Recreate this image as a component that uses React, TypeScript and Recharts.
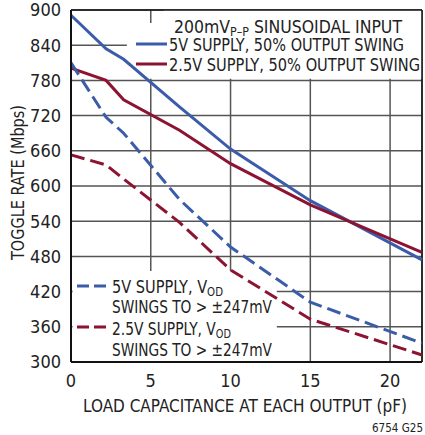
import { LineChart, Line, XAxis, YAxis, CartesianGrid, ReferenceArea, ReferenceLine } from 'recharts'

// load capacitance (pF) at each measured point
const capacitance = [0, 2.2, 3.3, 6.8, 10, 15, 22]

// toggle rate (Mbps)
const rate5V50 = [891, 834, 816, 735, 663, 575, 474]
const rate25V50 = [801, 780, 747, 695, 638, 568, 487]
const rate5VOd = [810, 717, 690, 577, 496, 402, 332]
const rate25VOd = [653, 636, 612, 538, 457, 373, 312]

const xTicks = [0, 5, 10, 15, 20]
const yTicks = [300, 360, 420, 480, 540, 600, 660, 720, 780, 840, 900]

const BLUE = '#3b5ca9'
const RED = '#8c1332'
const GRID = '#555555'
const FONT = "'Liberation Sans Narrow', 'DejaVu Sans Condensed', 'Arial Narrow', sans-serif"

const data = capacitance.map((c, i) => ({
  c,
  s5: rate5V50[i],
  s25: rate25V50[i],
  d5: rate5VOd[i],
  d25: rate25VOd[i]
}))

const tickStyle = { fontSize: 18, fill: '#222', fontFamily: FONT }

export default function App() {
  const fit = { lengthAdjust: 'spacingAndGlyphs' as const }
  return (
    <div style={{ position: 'absolute', left: 0, top: 0, width: 425, height: 435, background: '#fff', fontFamily: FONT }}>
      <LineChart width={425} height={435} data={data} margin={{ top: 10, right: 3, bottom: 43, left: 26 }}>
        <CartesianGrid stroke={GRID} strokeWidth={1.5} />
        {/* white boxes behind the legends */}
        <ReferenceArea x1={5.8} x2={22} y1={878} y2={900} fill="#fff" fillOpacity={1} stroke="none" ifOverflow="hidden" />
        <ReferenceArea x1={3.5} x2={22} y1={783} y2={878} fill="#fff" fillOpacity={1} stroke="none" ifOverflow="hidden" />
        <ReferenceArea x1={0.1} x2={12.9} y1={301} y2={455} fill="#fff" fillOpacity={1} stroke="none" ifOverflow="hidden" />
        <XAxis
          dataKey="c"
          type="number"
          domain={[0, 22]}
          ticks={xTicks}
          height={30}
          tickSize={0}
          tickMargin={12}
          axisLine={{ stroke: '#111', strokeWidth: 2 }}
          tick={tickStyle}
          interval={0}
        />
        <YAxis
          type="number"
          domain={[300, 900]}
          ticks={yTicks}
          width={45}
          tickSize={0}
          tickMargin={10}
          axisLine={{ stroke: '#111', strokeWidth: 2 }}
          tick={tickStyle}
          interval={0}
        />
        <ReferenceLine y={900} stroke="#111" strokeWidth={1.5} />
        <ReferenceLine x={22} stroke="#111" strokeWidth={1.5} />
        <Line dataKey="s5" stroke={BLUE} strokeWidth={3} dot={false} isAnimationActive={false} />
        <Line dataKey="s25" stroke={RED} strokeWidth={3} dot={false} isAnimationActive={false} />
        <Line dataKey="d5" stroke={BLUE} strokeWidth={3} strokeDasharray="14 6" dot={false} isAnimationActive={false} />
        <Line dataKey="d25" stroke={RED} strokeWidth={3} strokeDasharray="14 6" dot={false} isAnimationActive={false} />
      </LineChart>
      <svg width={425} height={435} style={{ position: 'absolute', left: 0, top: 0, pointerEvents: 'none' }}>
        <g fontFamily={FONT} fill="#222" fontSize={17.8}>
          <text x={174} y={33} textLength={228} {...fit}>
            200mV<tspan fontSize={12.5} dy={3}>P–P</tspan>
            <tspan dy={-3}> SINUSOIDAL INPUT</tspan>
          </text>
          <line x1={136} x2={167} y1={44} y2={44} stroke={BLUE} strokeWidth={3} />
          <text x={169} y={51} textLength={235} {...fit}>5V SUPPLY, 50% OUTPUT SWING</text>
          <line x1={136} x2={167} y1={64} y2={64} stroke={RED} strokeWidth={3} />
          <text x={169} y={71} textLength={251} {...fit}>2.5V SUPPLY, 50% OUTPUT SWING</text>

          <line x1={77} x2={107} y1={286} y2={286} stroke={BLUE} strokeWidth={3} strokeDasharray="12 5" />
          <text x={112} y={293} textLength={111} {...fit}>
            5V SUPPLY, V<tspan fontSize={12.5} dy={3}>OD</tspan>
          </text>
          <text x={112} y={313} textLength={160} {...fit}>SWINGS TO &gt; ±247mV</text>
          <line x1={77} x2={107} y1={327} y2={327} stroke={RED} strokeWidth={3} strokeDasharray="12 5" />
          <text x={112} y={335} textLength={119} {...fit}>
            2.5V SUPPLY, V<tspan fontSize={12.5} dy={3}>OD</tspan>
          </text>
          <text x={112} y={356} textLength={160} {...fit}>SWINGS TO &gt; ±247mV</text>

          <text x={83} y={412} fontSize={18.5} textLength={324} {...fit}>LOAD CAPACITANCE AT EACH OUTPUT (pF)</text>
          <text x={24} y={260} fontSize={18} textLength={155} {...fit} transform="rotate(-90, 24, 260)">TOGGLE RATE (Mbps)</text>
          <text x={372} y={432} fontSize={12.5} textLength={51} {...fit}>6754 G25</text>
        </g>
      </svg>
    </div>
  )
}
